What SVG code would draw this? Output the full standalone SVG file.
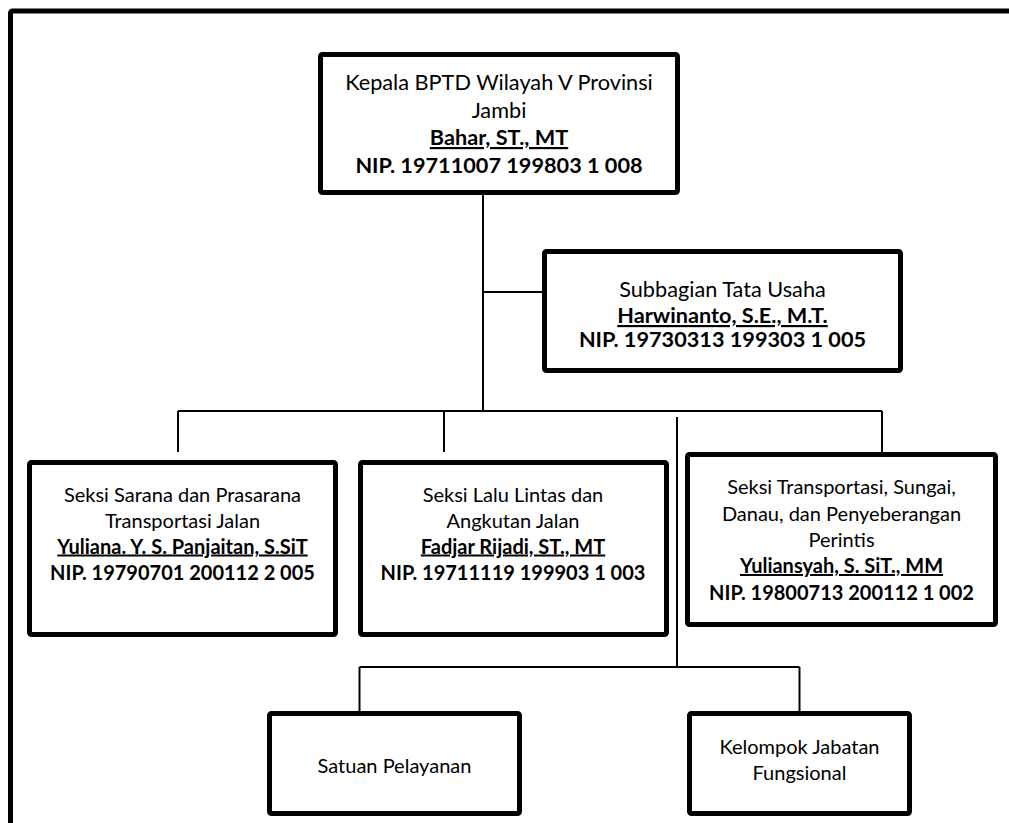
<svg xmlns="http://www.w3.org/2000/svg" width="1009" height="823" viewBox="0 0 1009 823">
<style>
.box{fill:#fff;stroke:#000;stroke-width:5;}
.frame{fill:none;stroke:#000;stroke-width:5;}
.con{fill:none;stroke:#000;stroke-width:2;}
text{font-family:Lato,"Open Sans","Liberation Sans",sans-serif;fill:#000;text-anchor:middle;}
.t1{font-size:21.7px;}
.t2{font-size:20px;}
.b{font-weight:bold;}
.u{font-weight:bold;text-decoration:underline;}
</style>
<rect class="frame" x="10.5" y="11" width="1100" height="900" rx="2"/>
<g id="connectors">
<path class="con" d="M483,195 V411"/>
<path class="con" d="M483,292 H542"/>
<path class="con" d="M178,411 H882"/>
<path class="con" d="M178,411 V452"/>
<path class="con" d="M444,411 V452"/>
<path class="con" d="M882,411 V452"/>
<path class="con" d="M677,417 V667"/>
<path class="con" d="M359.5,667 H799.5"/>
<path class="con" d="M359.5,667 V711"/>
<path class="con" d="M799.5,667 V711"/>
</g>
<g id="kepala">
<rect class="box" x="320.5" y="54.5" width="357" height="138" rx="2"/>
<text class="t1" x="499" y="90">Kepala BPTD Wilayah V Provinsi</text>
<text class="t1" x="499" y="118">Jambi</text>
<text class="t1 u" x="499" y="145">Bahar, ST., MT</text>
<text class="t1 b" x="499" y="173">NIP. 19711007 199803 1 008</text>
</g>
<g id="subbagian">
<rect class="box" x="544.5" y="251.5" width="356" height="119" rx="2"/>
<text class="t1" x="722.5" y="297">Subbagian Tata Usaha</text>
<text class="t1 u" x="722.5" y="323">Harwinanto, S.E., M.T.</text>
<text class="t1 b" x="722.5" y="347">NIP. 19730313 199303 1 005</text>
</g>
<g id="seksi-sarana">
<rect class="box" x="29.5" y="462.5" width="306" height="172" rx="2"/>
<text class="t2" x="182.5" y="501.5">Seksi Sarana dan Prasarana</text>
<text class="t2" x="182.5" y="527.5">Transportasi Jalan</text>
<text class="t2 u" x="182.5" y="553.5">Yuliana. Y. S. Panjaitan, S.SiT</text>
<text class="t2 b" x="182.5" y="579.5">NIP. 19790701 200112 2 005</text>
</g>
<g id="seksi-lalu-lintas">
<rect class="box" x="360.5" y="462.5" width="306" height="172" rx="2"/>
<text class="t2" x="513" y="501.5">Seksi Lalu Lintas dan</text>
<text class="t2" x="513" y="527.5">Angkutan Jalan</text>
<text class="t2 u" x="513" y="553.5">Fadjar Rijadi, ST., MT</text>
<text class="t2 b" x="513" y="579.5">NIP. 19711119 199903 1 003</text>
</g>
<g id="seksi-transportasi">
<rect class="box" x="687.5" y="454.5" width="308" height="170" rx="2"/>
<text class="t2" x="841.5" y="494">Seksi Transportasi, Sungai,</text>
<text class="t2" x="841.5" y="520.5">Danau, dan Penyeberangan</text>
<text class="t2" x="841.5" y="547">Perintis</text>
<text class="t2 u" x="841.5" y="573">Yuliansyah, S. SiT., MM</text>
<text class="t2 b" x="841.5" y="599.5">NIP. 19800713 200112 1 002</text>
</g>
<g id="satuan-pelayanan">
<rect class="box" x="269.5" y="713.5" width="250" height="100" rx="2"/>
<text class="t2" x="394.5" y="773">Satuan Pelayanan</text>
</g>
<g id="kelompok-jabatan">
<rect class="box" x="689.5" y="713.5" width="220" height="100" rx="2"/>
<text class="t2" x="799.5" y="754">Kelompok Jabatan</text>
<text class="t2" x="799.5" y="780">Fungsional</text>
</g>
</svg>
